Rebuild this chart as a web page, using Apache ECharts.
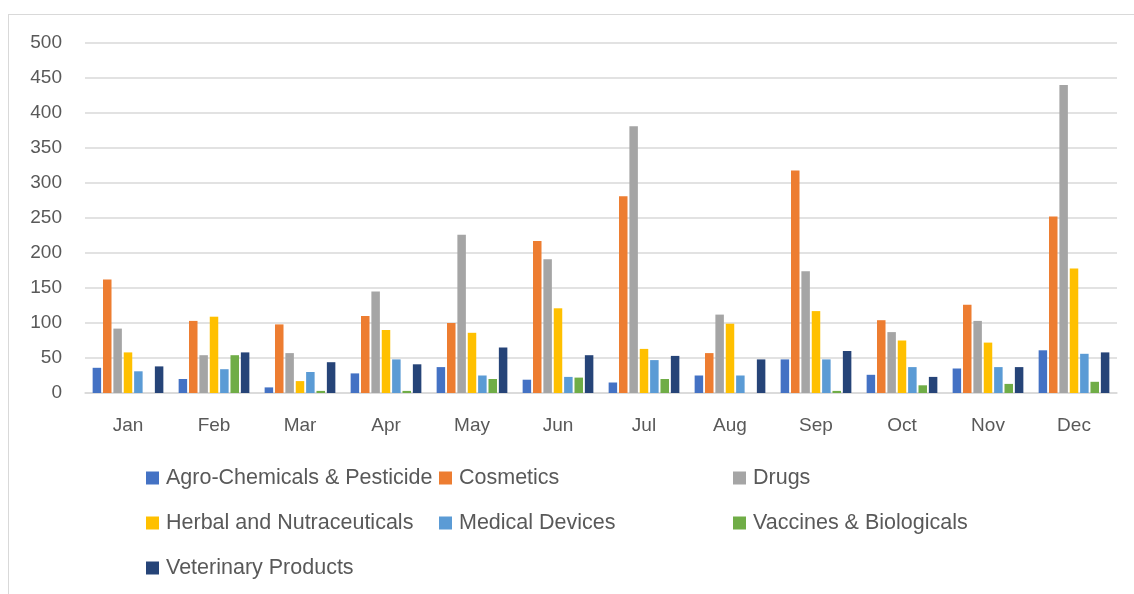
<!DOCTYPE html>
<html>
<head>
<meta charset="utf-8">
<script src="https://cdn.jsdelivr.net/npm/echarts@6/dist/echarts.min.js"></script>
<style>
  html, body { margin: 0; padding: 0; background: #fff; overflow: hidden; }
  #frame {
    position: absolute; left: 8px; top: 14px; width: 1140px; height: 600px;
    border: 1px solid #d9d9d9;
  }
  #main { position: absolute; left: 0; top: 0; width: 1134px; height: 594px; }
</style>
</head>
<body>
<div id="frame"></div>
<div id="main"></div>
<script>
// 月份
var months = ["Jan", "Feb", "Mar", "Apr", "May", "Jun", "Jul", "Aug", "Sep", "Oct", "Nov", "Dec"];
var yTicks = [0, 50, 100, 150, 200, 250, 300, 350, 400, 450, 500];

// values
var agro       = [36, 20, 8, 28, 37, 19, 15, 25, 48, 26, 35, 61];
var cosmetics  = [162, 103, 98, 110, 100, 217, 281, 57, 318, 104, 126, 252];
var drugs      = [92, 54, 57, 145, 226, 191, 381, 112, 174, 87, 103, 440];
var herbal     = [58, 109, 17, 90, 86, 121, 63, 99, 117, 75, 72, 178];
var medical    = [31, 34, 30, 48, 25, 23, 47, 25, 48, 37, 37, 56];
var vaccines   = [0, 54, 3, 3, 20, 22, 20, 0, 3, 11, 13, 16];
var veterinary = [38, 58, 44, 41, 65, 54, 53, 48, 60, 23, 37, 58];

var seriesNames = [
  "Agro-Chemicals & Pesticide", "Cosmetics", "Drugs",
  "Herbal and Nutraceuticals", "Medical Devices", "Vaccines & Biologicals",
  "Veterinary Products"
];
var seriesData = [agro, cosmetics, drugs, herbal, medical, vaccines, veterinary];
var colors = ["#4472C4", "#ED7D31", "#A5A5A5", "#FFC000", "#5B9BD5", "#70AD47", "#264478"];

var font = "'Liberation Sans', Arial, sans-serif";
var textColor = "#595959";

var series = [];
for (var i = 0; i < seriesNames.length; i++) {
  series.push({
    name: seriesNames[i],
    type: "bar",
    data: seriesData[i],
    barWidth: 8.5,
    barGap: "22%",
    itemStyle: { color: colors[i] }
  });
}

// 图例分三列
function legendCol(left, names) {
  return {
    orient: "vertical",
    left: left,
    top: 462,
    data: names,
    icon: "rect",
    itemWidth: 13,
    itemHeight: 13,
    itemGap: 23,
    selectedMode: false,
    textStyle: {
      fontFamily: font, fontSize: 21.5, color: textColor,
      lineHeight: 22, padding: [0, 0, 0, 2]
    }
  };
}

var myChart = echarts.init(document.getElementById("main"));
myChart.setOption({
  animation: false,
  color: colors,
  grid: { left: 85, right: 17, top: 43, bottom: 201 },
  legend: [
    legendCol(141, [seriesNames[0], seriesNames[3], seriesNames[6]]),
    legendCol(434, [seriesNames[1], seriesNames[4]]),
    legendCol(728, [seriesNames[2], seriesNames[5]])
  ],
  xAxis: {
    type: "category",
    data: months,
    axisLine: { lineStyle: { color: "#d9d9d9", width: 1.5 } },
    axisTick: { show: false },
    axisLabel: { fontFamily: font, fontSize: 19, color: textColor, margin: 23 }
  },
  yAxis: {
    type: "value",
    min: yTicks[0],
    max: yTicks[yTicks.length - 1],
    interval: 50,
    axisLine: { show: false },
    axisTick: { show: false },
    splitLine: { lineStyle: { color: "#d9d9d9", width: 1.5 } },
    axisLabel: { fontFamily: font, fontSize: 19, color: textColor, margin: 23 }
  },
  series: series
});
</script>
</body>
</html>
